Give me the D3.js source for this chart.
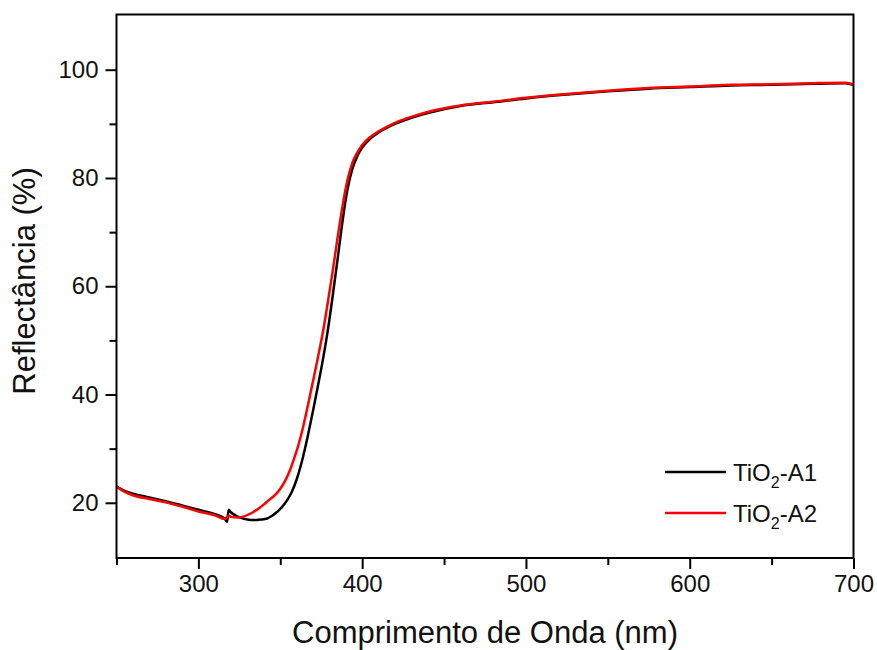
<!DOCTYPE html>
<html>
<head>
<meta charset="utf-8">
<script src="https://cdn.jsdelivr.net/npm/d3@7"></script>
<style>
  body { margin: 0; background: #fff; }
  svg text { font-family: "Liberation Sans", Arial, sans-serif; fill: #111; }
</style>
</head>
<body>
<svg id="chart" width="877" height="650"></svg>
<script>
/* data */
var wlA1 = [250, 255, 260, 270, 280, 290, 300, 310, 316, 317.5, 318.5, 320, 323, 326, 330, 334, 338, 342, 345, 348, 351, 354, 357, 360, 362, 364, 367, 370, 373, 376, 379, 382, 385, 388, 391, 394, 397, 400, 405, 410, 420, 430, 440, 460, 480, 500, 525, 550, 575, 600, 625, 650, 675, 695, 700];
var rA1  = [23.0, 22.2, 21.7, 21.0, 20.3, 19.5, 18.7, 17.9, 17.1, 16.5, 18.7, 18.2, 17.6, 17.2, 16.9, 16.8, 16.9, 17.1, 17.6, 18.3, 19.2, 20.4, 22.0, 24.3, 26.3, 28.6, 32.6, 37.0, 41.6, 46.4, 51.8, 58.2, 65.0, 72.0, 77.8, 81.7, 84.0, 85.6, 87.3, 88.4, 90.0, 91.1, 92.0, 93.3, 94.0, 94.7, 95.4, 96.0, 96.5, 96.8, 97.1, 97.2, 97.4, 97.5, 97.2];

var wlA2 = [250, 255, 260, 270, 280, 290, 300, 310, 316, 318.5, 320, 324, 328, 331, 334, 337, 340, 343, 347, 350, 353, 356, 358, 361, 364, 367, 370, 373, 376, 379, 382, 385, 388, 391, 394, 397, 400, 405, 410, 420, 430, 440, 460, 480, 500, 525, 550, 575, 600, 625, 650, 675, 695, 700];
var rA2  = [23.0, 22.0, 21.4, 20.7, 20.1, 19.3, 18.4, 17.7, 17.0, 17.6, 17.4, 17.3, 17.5, 17.9, 18.4, 19.0, 19.7, 20.5, 21.5, 22.6, 24.1, 26.1, 27.8, 30.6, 34.1, 38.2, 42.5, 46.9, 51.5, 57.0, 62.8, 69.0, 74.8, 79.6, 82.8, 84.7, 86.1, 87.6, 88.6, 90.2, 91.3, 92.2, 93.4, 94.1, 94.8, 95.5, 96.1, 96.6, 96.9, 97.2, 97.3, 97.5, 97.6, 97.3];

var seriesNames = ["A1", "A2"];
var seriesColors = ["#000000", "#ff0000"];
var xTicks = [300, 400, 500, 600, 700];
var yTicks = [20, 40, 60, 80, 100];

var svg = d3.select("#chart");

// plot box (pixels)
var box = { left: 116.5, right: 853.5, top: 14.5, bottom: 558 };

var x = d3.scaleLinear().domain([250, 700]).range([box.left, box.right]);
var y = d3.scaleLinear().domain([9.8, 110.2]).range([box.bottom, box.top]);

// minor ticks
var xMinor = d3.range(250, 701, 50).filter(function(d){ return xTicks.indexOf(d) < 0; });
var yMinor = d3.range(30, 110, 20);

var axisStroke = 2;

// x axis
var gx = svg.append("g").attr("transform", "translate(0," + box.bottom + ")");
gx.append("g").call(d3.axisBottom(x).tickValues(xMinor).tickSize(7).tickFormat(""));
gx.append("g").call(d3.axisBottom(x).tickValues(xTicks).tickSize(11).tickPadding(6).tickFormat(d3.format("d")));
gx.selectAll(".domain").remove();
gx.selectAll("line").attr("stroke", "#000").attr("stroke-width", axisStroke);
gx.selectAll("text").attr("font-size", 24).attr("fill", "#111")
  .attr("font-family", "Liberation Sans, Arial, sans-serif");

// y axis
var gy = svg.append("g").attr("transform", "translate(" + box.left + ",0)");
gy.append("g").call(d3.axisLeft(y).tickValues(yMinor).tickSize(7).tickFormat(""));
gy.append("g").call(d3.axisLeft(y).tickValues(yTicks).tickSize(11).tickPadding(7).tickFormat(d3.format("d")));
gy.selectAll(".domain").remove();
gy.selectAll("line").attr("stroke", "#000").attr("stroke-width", axisStroke);
gy.selectAll("text").attr("font-size", 24).attr("fill", "#111")
  .attr("font-family", "Liberation Sans, Arial, sans-serif");

// curves
var line = d3.line()
  .x(function(d){ return x(d[0]); })
  .y(function(d){ return y(d[1]); })
  .curve(d3.curveMonotoneX);

var dataA1 = wlA1.map(function(w, i){ return [w, rA1[i]]; });
var dataA2 = wlA2.map(function(w, i){ return [w, rA2[i]]; });

svg.append("path").datum(dataA1)
  .attr("d", line).attr("fill", "none")
  .attr("stroke", seriesColors[0]).attr("stroke-width", 2.5);
svg.append("path").datum(dataA2)
  .attr("d", line).attr("fill", "none")
  .attr("stroke", seriesColors[1]).attr("stroke-width", 2.5);

// frame
svg.append("rect")
  .attr("x", box.left).attr("y", box.top)
  .attr("width", box.right - box.left).attr("height", box.bottom - box.top)
  .attr("fill", "none").attr("stroke", "#000").attr("stroke-width", axisStroke);

// legend
var leg = svg.append("g");
seriesNames.forEach(function(name, i){
  var ly = 472 + i * 41;
  leg.append("line")
    .attr("x1", 665).attr("x2", 726).attr("y1", ly).attr("y2", ly)
    .attr("stroke", seriesColors[i]).attr("stroke-width", 2.5);
  var t = leg.append("text").attr("x", 733).attr("y", ly + 9).attr("font-size", 24);
  t.append("tspan").text("TiO");
  t.append("tspan").attr("font-size", 16).attr("dy", 7).text("2");
  t.append("tspan").attr("dy", -7).text("-" + name);
});

// axis titles
svg.append("text")
  .attr("x", (box.left + box.right) / 2).attr("y", 643)
  .attr("text-anchor", "middle").attr("font-size", 31)
  .text("Comprimento de Onda (nm)");

svg.append("text")
  .attr("transform", "translate(35,281) rotate(-90)")
  .attr("text-anchor", "middle").attr("font-size", 31)
  .text("Reflectância (%)");
</script>
</body>
</html>
